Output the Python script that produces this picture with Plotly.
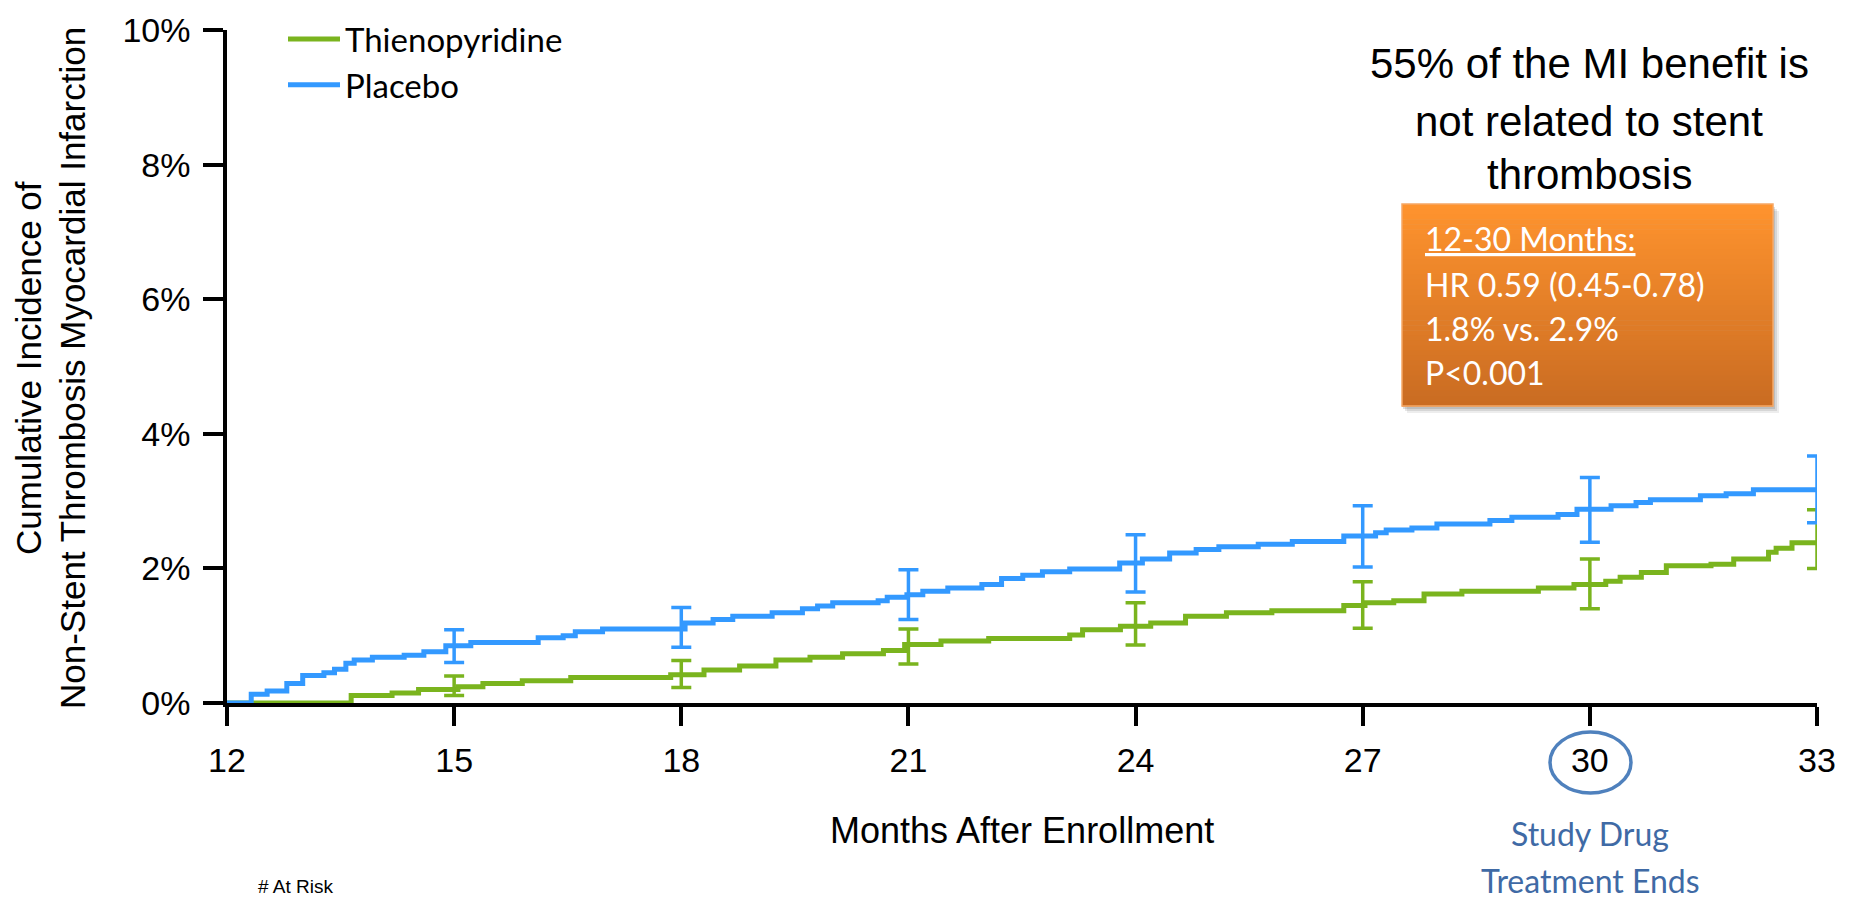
import plotly.graph_objects as go

# ---------------- data (percent, months after enrollment) ----------------
thieno_x = [12.0, 13.64, 14.18, 14.53, 15.05, 15.38, 15.9, 16.54, 17.86, 18.3, 18.77,
            19.25, 19.7, 20.13, 20.67, 20.95, 21.43, 22.06, 23.13, 23.3, 23.8, 24.2,
            24.66, 25.2, 25.8, 26.75, 27.03, 27.41, 27.81, 28.31, 29.32, 29.79, 30.21,
            30.4, 30.68, 31.01, 31.6, 31.9, 32.36, 32.46, 32.67, 33.0]
thieno_y = [0.00, 0.11, 0.15, 0.20, 0.24, 0.29, 0.33, 0.38, 0.42, 0.49, 0.55,
            0.64, 0.68, 0.73, 0.78, 0.87, 0.92, 0.96, 1.01, 1.09, 1.14, 1.19,
            1.29, 1.34, 1.37, 1.45, 1.49, 1.52, 1.62, 1.66, 1.71, 1.76, 1.81,
            1.87, 1.94, 2.04, 2.06, 2.14, 2.24, 2.30, 2.38, 2.39]

placebo_x = [12.0, 12.32, 12.53, 12.79, 13.0, 13.28, 13.42, 13.57, 13.68, 13.92, 14.34,
             14.6, 14.89, 15.22, 16.11, 16.44, 16.6, 16.96, 18.05, 18.42, 18.68, 19.2,
             19.6, 19.8, 20.0, 20.6, 20.72, 20.98, 21.19, 21.52, 21.97, 22.23, 22.51,
             22.77, 23.13, 23.79, 24.09, 24.45, 24.8, 25.1, 25.62, 26.07, 26.75, 27.17,
             27.31, 27.65, 27.98, 28.68, 28.97, 29.58, 29.83, 30.28, 30.61, 30.8, 31.46,
             31.8, 32.16, 33.0]
placebo_y = [0.00, 0.13, 0.18, 0.29, 0.41, 0.45, 0.50, 0.59, 0.64, 0.68, 0.71,
             0.76, 0.85, 0.90, 0.97, 1.00, 1.06, 1.10, 1.19, 1.24, 1.29, 1.34,
             1.40, 1.44, 1.49, 1.52, 1.57, 1.61, 1.66, 1.71, 1.76, 1.85, 1.90,
             1.95, 1.99, 2.08, 2.14, 2.23, 2.28, 2.32, 2.36, 2.40, 2.48, 2.53,
             2.57, 2.60, 2.66, 2.71, 2.76, 2.80, 2.88, 2.93, 2.98, 3.02, 3.08,
             3.11, 3.17, 3.17]

ci_months = [15, 18, 21, 24, 27, 30, 33]
thieno_ci_lo = [0.11, 0.23, 0.58, 0.86, 1.11, 1.40, 2.00]
thieno_ci_hi = [0.40, 0.63, 1.10, 1.49, 1.80, 2.14, 2.87]
placebo_ci_lo = [0.60, 0.83, 1.24, 1.65, 2.02, 2.39, 2.68]
placebo_ci_hi = [1.09, 1.42, 1.98, 2.50, 2.93, 3.35, 3.67]

x_ticks = [12, 15, 18, 21, 24, 27, 30, 33]
y_ticks = [0, 2, 4, 6, 8, 10]
y_tick_text = ["0%", "2%", "4%", "6%", "8%", "10%"]

series_names = ["Thienopyridine", "Placebo"]
y_title_lines = ["Cumulative Incidence of", "Non-Stent Thrombosis Myocardial Infarction"]
x_title = "Months After Enrollment"
headline_lines = ["55% of the MI benefit is", "not related to stent", "thrombosis"]
box_lines = ["12-30 Months:", "HR 0.59 (0.45-0.78)", "1.8% vs. 2.9%", "P<0.001"]
end_note_lines = ["Study Drug", "Treatment Ends"]
at_risk_label = "# At Risk"

# ---------------- styling ----------------
GREEN = "#7AB41E"
BLUE = "#3399FF"
W, H = 1851, 899
PL, PR, PT, PB = 227, 1817, 30, 703
ARIAL = "Liberation Sans, Arial, sans-serif"
CALIBRI = "Lato, Carlito, Calibri, sans-serif"


def px(x):
    return (x - PL) / (PR - PL)


def py(y):
    return (PB - y) / (PB - PT)


fig = go.Figure()

for name, xs, ys, col in [(series_names[0], thieno_x, thieno_y, GREEN),
                          (series_names[1], placebo_x, placebo_y, BLUE)]:
    fig.add_trace(go.Scatter(x=xs, y=ys, mode="lines", name=name,
                             line=dict(color=col, width=5, shape="hv"),
                             cliponaxis=False, hoverinfo="skip"))

for lo, hi, col in [(thieno_ci_lo, thieno_ci_hi, GREEN),
                    (placebo_ci_lo, placebo_ci_hi, BLUE)]:
    fig.add_trace(go.Scatter(
        x=ci_months, y=lo, mode="markers", showlegend=False, hoverinfo="skip",
        marker=dict(size=1, color="rgba(0,0,0,0)"),
        error_y=dict(type="data", symmetric=False,
                     array=[h - l for h, l in zip(hi, lo)],
                     arrayminus=[0] * len(lo),
                     color=col, thickness=3.5, width=10),
        cliponaxis=False))

shapes = []
annotations = []

# Orange box: shadow + vertical gradient bands + border
bx0, bx1, by0, by1 = 1402, 1773, 204, 406
for off, op in [(7, 0.10), (5, 0.14), (3, 0.18)]:
    shapes.append(dict(type="rect", xref="paper", yref="paper",
                       x0=px(bx0 + off - 2), x1=px(bx1 + off - 1),
                       y0=py(by1 + off), y1=py(by0 + off),
                       fillcolor=f"rgba(80,80,80,{op})", line=dict(width=0),
                       layer="above"))
top = (255, 148, 46)
bot = (201, 107, 34)
nb = 40
for i in range(nb):
    t = (i + 0.5) / nb
    c = tuple(int(round(a + (b - a) * t)) for a, b in zip(top, bot))
    ya = by0 + (by1 - by0) * i / nb
    yb = by0 + (by1 - by0) * (i + 1) / nb + 0.6
    shapes.append(dict(type="rect", xref="paper", yref="paper",
                       x0=px(bx0), x1=px(bx1), y0=py(yb), y1=py(ya),
                       fillcolor=f"rgb{c}", line=dict(width=0), layer="above"))
shapes.append(dict(type="rect", xref="paper", yref="paper",
                   x0=px(bx0), x1=px(bx1), y0=py(by1), y1=py(by0),
                   fillcolor="rgba(0,0,0,0)", line=dict(color="#F6A866", width=1.5),
                   layer="above"))

# circle around tick 30
shapes.append(dict(type="circle", xref="paper", yref="paper",
                   x0=px(1550), x1=px(1631), y0=py(793), y1=py(732),
                   line=dict(color="#4F81BD", width=3.5), layer="above"))

# y title (two rotated lines)
for txt, xc in zip(y_title_lines, [28, 72]):
    annotations.append(dict(text=txt, xref="paper", yref="paper", x=px(xc), y=py(368),
                            xanchor="center", yanchor="middle", textangle=-90,
                            showarrow=False, font=dict(family=ARIAL, size=35, color="black")))

# x title
annotations.append(dict(text=x_title, xref="paper", yref="paper", x=px(1022), y=py(830),
                        xanchor="center", yanchor="middle", showarrow=False,
                        font=dict(family=ARIAL, size=36, color="black")))

# headline
for txt, yc in zip(headline_lines, [63, 122, 174]):
    annotations.append(dict(text=txt, xref="paper", yref="paper", x=px(1589), y=py(yc),
                            xanchor="center", yanchor="middle", showarrow=False,
                            font=dict(family=ARIAL, size=42, color="black")))

# box text
for i, (txt, yc) in enumerate(zip(box_lines, [238, 284, 328, 372])):
    f = dict(family=CALIBRI, size=32, color="white")
    if i == 0:
        f["lineposition"] = "under"
    annotations.append(dict(text=txt, xref="paper", yref="paper", x=px(1423), y=py(yc),
                            xanchor="left", yanchor="middle", showarrow=False, font=f))

# study drug note
for txt, yc in zip(end_note_lines, [833, 880]):
    annotations.append(dict(text=txt, xref="paper", yref="paper", x=px(1590), y=py(yc),
                            xanchor="center", yanchor="middle", showarrow=False,
                            font=dict(family=CALIBRI, size=32, color="#3F6AA5")))

annotations.append(dict(text=at_risk_label, xref="paper", yref="paper", x=px(256), y=py(899),
                        xanchor="left", yanchor="bottom", showarrow=False,
                        font=dict(family=ARIAL, size=19, color="black")))

fig.update_layout(
    width=W, height=H,
    margin=dict(l=PL, r=W - PR, t=PT, b=H - PB, autoexpand=False),
    paper_bgcolor="white", plot_bgcolor="white",
    showlegend=True,
    legend=dict(x=px(283), y=py(11), xanchor="left", yanchor="top",
                bgcolor="rgba(0,0,0,0)", borderwidth=0, itemwidth=52,
                font=dict(family=CALIBRI, size=33, color="black")),
    xaxis=dict(range=[12, 33], tickvals=x_ticks, ticks="outside", ticklen=19,
               tickwidth=3.5, tickcolor="black", showline=True, linecolor="black",
               linewidth=3.5, showgrid=False, zeroline=False, ticklabelstandoff=5,
               tickfont=dict(family=ARIAL, size=34, color="black")),
    yaxis=dict(range=[0, 10], tickvals=y_ticks, ticktext=y_tick_text, ticks="outside",
               ticklen=20, tickwidth=3.5, tickcolor="black", showline=True,
               linecolor="black", linewidth=3.5, showgrid=False, zeroline=False,
               ticklabelstandoff=6,
               tickfont=dict(family=ARIAL, size=34, color="black")),
    shapes=shapes, annotations=annotations,
)

fig.write_html("out.html", config={"displayModeBar": False},
               post_script="document.body.style.margin='0';document.body.style.overflow='hidden';")
